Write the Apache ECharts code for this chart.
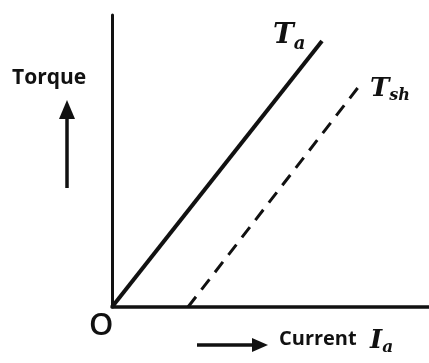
<!DOCTYPE html>
<html><head><meta charset="utf-8">
<script src="https://cdn.jsdelivr.net/npm/echarts@6/dist/echarts.min.js"></script>
<style>html,body{margin:0;padding:0;background:#fff;}#c{width:429px;height:363px;}</style>
</head><body><div id="c"></div>
<script>
// Armature current (arbitrary units) vs torque (arbitrary units)
const taCurrent = [0, 210];
const taTorque = [0, 266];
const tshCurrent = [76, 248];
const tshTorque = [0, 222];
const xLabel = 'Current';
const yLabel = 'Torque';

const chart = echarts.init(document.getElementById('c'));
const pair = (xs, ys) => xs.map((x, i) => [x, ys[i]]);
chart.setOption({
  backgroundColor: '#fff',
  animation: false,
  grid: {left: 112, top: 15, right: 0, bottom: 56},
  xAxis: {type: 'value', min: 0, max: 317, axisLine: {show: true, onZero: false, lineStyle: {color: '#111', width: 3.5}},
    axisTick: {show: false}, axisLabel: {show: false}, splitLine: {show: false}},
  yAxis: {type: 'value', min: 0, max: 292, axisLine: {show: true, lineStyle: {color: '#111', width: 3}},
    axisTick: {show: false}, axisLabel: {show: false}, splitLine: {show: false}},
  series: [
    {type: 'line', data: pair(taCurrent, taTorque), showSymbol: false, lineStyle: {color: '#111', width: 4}},
    {type: 'line', data: pair(tshCurrent, tshTorque), showSymbol: false, lineStyle: {color: '#111', width: 3, type: [13, 9]}}
  ],
  graphic: [
    {type: 'text', left: 12, top: 68, style: {text: yLabel, font: 'bold 21px "Open Sans"', fill: '#111'}},
    {type: 'line', shape: {x1: 67, y1: 188, x2: 67, y2: 116}, style: {stroke: '#111', lineWidth: 3.5}},
    {type: 'polygon', shape: {points: [[67, 100], [59, 119], [75, 119]]}, style: {fill: '#111'}},
    {type: 'text', left: 89, top: 311, style: {text: 'O', font: '600 31px "Open Sans"', fill: '#111'}},
    {type: 'line', shape: {x1: 197, y1: 345, x2: 256, y2: 345}, style: {stroke: '#111', lineWidth: 3.5}},
    {type: 'polygon', shape: {points: [[268, 345], [252, 338], [252, 352]]}, style: {fill: '#111'}},
    {type: 'text', left: 279, top: 329, style: {text: xLabel, font: 'bold 20px "Open Sans"', fill: '#111'}},
    {type: 'text', left: 370, top: 328, style: {text: '{m|I}{s|a}', rich: {
      m: {font: 'italic bold 26px "DejaVu Serif"', fill: '#111'},
      s: {font: 'italic bold 17px "DejaVu Serif"', fill: '#111', padding: [14, 0, 0, 0]}}}},
    {type: 'text', left: 273, top: 22, style: {text: '{m|T}{s|a}', rich: {
      m: {font: 'italic bold 28px "DejaVu Serif"', fill: '#111'},
      s: {font: 'italic bold 18px "DejaVu Serif"', fill: '#111', padding: [16, 0, 0, 0]}}}},
    {type: 'text', left: 370, top: 76, style: {text: '{m|T}{s|sh}', rich: {
      m: {font: 'italic bold 26px "DejaVu Serif"', fill: '#111'},
      s: {font: 'italic bold 16px "DejaVu Serif"', fill: '#111', padding: [14, 0, 0, 0]}}}}
  ]
});
</script></body></html>
